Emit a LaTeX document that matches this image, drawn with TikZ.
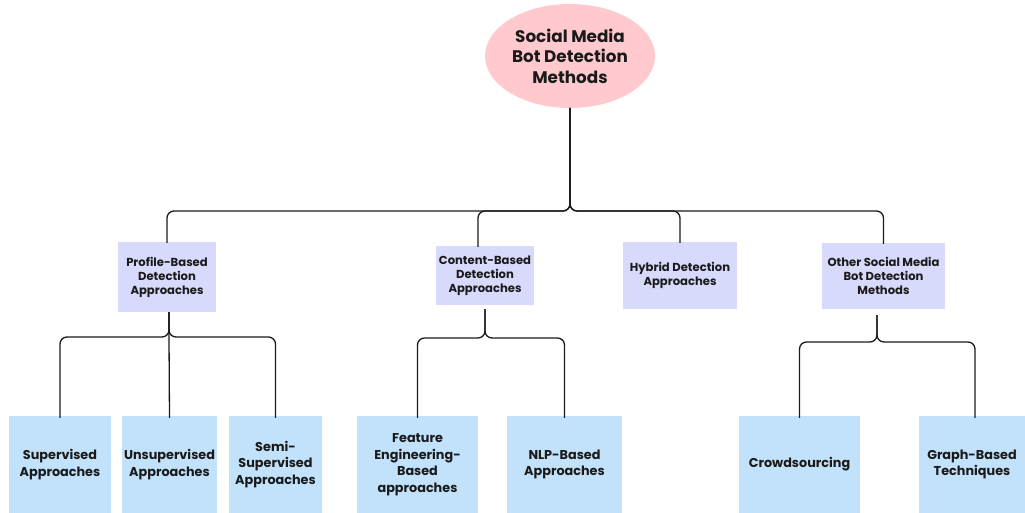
\documentclass[tikz,border=0pt]{standalone}
\usepackage{fontspec}
\setmainfont{Poppins}
\usetikzlibrary{shapes.geometric}
\definecolor{rootpink}{RGB}{255,201,206}
\definecolor{lav}{RGB}{216,218,252}
\definecolor{lblue}{RGB}{194,226,252}
\definecolor{ink}{RGB}{26,26,26}
\tikzset{
  rootnode/.style={ellipse, fill=rootpink, minimum width=170pt, minimum height=104pt, inner sep=0pt, align=center, text=ink, font=\bfseries\fontsize{16.8}{20.5}\selectfont},
  midbox/.style={fill=lav, inner sep=0pt, align=center, text=ink, font=\bfseries\fontsize{11.6}{14}\selectfont},
  leafbox/.style={fill=lblue, inner sep=0pt, align=center, text=ink, font=\bfseries\fontsize{12.8}{16.5}\selectfont, minimum height=97pt},
  conn/.style={draw=ink, line width=1.3pt, rounded corners=7pt}
}
\begin{document}
\begin{tikzpicture}[x=1pt,y=-1pt]
\useasboundingbox (0,0) rectangle (1025,513);
% root
\node[rootnode] (root) at (570,56) {Social Media\\Bot Detection\\Methods};
% level 2
\node[midbox, minimum width=98pt, minimum height=70pt] (profile) at (167,277) {Profile-Based\\Detection\\Approaches};
\node[midbox, minimum width=98pt, minimum height=59pt] (content) at (485,275.5) {Content-Based\\Detection\\Approaches};
\node[midbox, minimum width=114pt, minimum height=67pt] (hybrid) at (680,275.5) {Hybrid Detection\\Approaches};
\node[midbox, minimum width=123pt, minimum height=66pt] (other) at (883.5,276) {Other Social Media\\Bot Detection\\Methods};
% level 3
\node[leafbox, minimum width=102pt] (sup) at (60,464.5) {Supervised\\Approaches};
\node[leafbox, minimum width=95pt] (unsup) at (169.5,464.5) {Unsupervised\\Approaches};
\node[leafbox, minimum width=93pt] (semi) at (275.5,464.5) {Semi-\\Supervised\\Approaches};
\node[leafbox, minimum width=121pt] (feat) at (417.5,464.5) {Feature\\Engineering-\\Based\\approaches};
\node[leafbox, minimum width=115pt] (nlp) at (564.5,464.5) {NLP-Based\\Approaches};
\node[leafbox, minimum width=121pt] (crowd) at (799.5,464.5) {Crowdsourcing};
\node[leafbox, minimum width=106pt] (graph) at (972,464.5) {Graph-Based\\Techniques};
% junction coordinates
\coordinate (j0) at (570,211);
\coordinate (j1) at (169,337);
\coordinate (j2) at (485,338);
\coordinate (j3) at (877,342);
\coordinate (t0) at (570,108);
% root connectors
\draw[conn] (t0) -- (j0) -| ([yshift=-1pt]profile.north);
\draw[conn] (t0) -- (j0) -| ([xshift=-7pt,yshift=-1pt]content.north);
\draw[conn] (t0) -- (j0) -| ([yshift=-1pt]hybrid.north);
\draw[conn] (t0) -- (j0) -| ([yshift=-1pt]other.north);
% profile
\draw[conn] ([xshift=2pt]profile.south) -- (j1) -| ([yshift=-2pt]sup.north);
\draw[conn] ([xshift=2pt]profile.south) -- (j1) -- ([yshift=-2pt]unsup.north);
\draw[conn] ([xshift=2pt]profile.south) -- (j1) -| ([yshift=-2pt]semi.north);
% content
\draw[conn] ([yshift=-4pt]content.south) -- (j2) -| ([yshift=-2pt]feat.north);
\draw[conn] ([yshift=-4pt]content.south) -- (j2) -| ([yshift=-2pt]nlp.north);
% other
\draw[conn] ([xshift=-6.5pt,yshift=-6pt]other.south) -- (j3) -| ([yshift=-2pt]crowd.north);
\draw[conn] ([xshift=-6.5pt,yshift=-6pt]other.south) -- (j3) -| ([xshift=3pt,yshift=-2pt]graph.north);
\end{tikzpicture}
\end{document}
